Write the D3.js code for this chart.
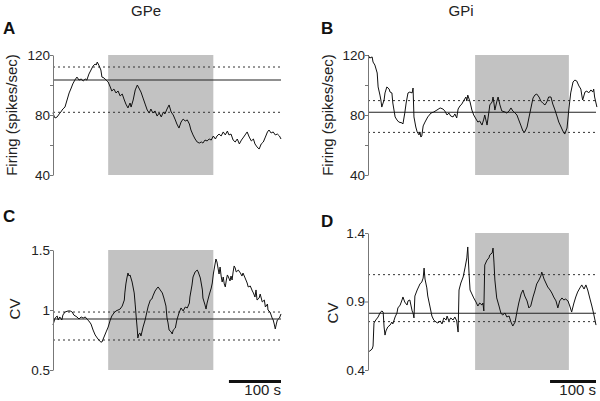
<!DOCTYPE html>
<html><head><meta charset="utf-8">
<script src="https://cdn.jsdelivr.net/npm/d3@7"></script>
<style>
body{margin:0;background:#fff;}
svg{display:block;font-family:"Liberation Sans",Arial,sans-serif;}
</style></head>
<body><svg id="c" width="600" height="401"></svg>
<script>
// ---- Panel A: GPe firing (spikes/sec) ----
const aTime = [0,2,4,8,12,15,19,23,27,31,35,38,42,46,50,54,58,62,65,69,73,77,81,83,85,88,92,94,98,102,106,110,113,117,121,125,129,133,137,140,144,148,150,154,158,162,165,169,173,177,181,185,188,192,196,200,204,208,212,215,219,223,227,231,235,238,242,246,250,254,258,262,265,269,273,277,281,285,288,292,296,300,304,308,312,315,319,323,327,331,335,338,342,346,350,354,358,362,365,369,373,377,381,385,388,392,396,400,404,408,412,415,419,423,427,431,435,438];
const aValue = [81.5,79.3,78,78.7,80.7,82,84,85.3,90,94.7,98,100.7,103.3,105.3,103.3,104,102.7,104,103.3,107.3,110,112.7,114,113.3,115.3,113.3,110,105.3,104.7,103.3,102,98.7,96,97.3,94.7,96,92.7,94,90,87.3,84.7,88,85.3,90,96.7,100,98,95.3,91.3,87.3,83.3,81.3,84,81.3,82.7,79.3,81.3,78.7,82,80.7,84,86.7,82,80,76.7,74,71.3,75.3,77.3,76,76.7,74,70,66.7,64,62,61.3,62,61.3,63.3,62.7,64,63.3,66,64,66,67.3,66,68.7,66.7,69.3,66.7,67.3,63.3,62,64,60.7,63.3,64.7,66.7,68.7,65.3,62.7,64,60.7,58.7,57.3,60.7,62,65.3,68.7,70,68,68.7,66.7,67.3,66,64];
const aMean = 103.3, aUpper = 112, aLower = 81.8;

// ---- Panel B: GPi firing (spikes/sec) ----
const bTime = [0,4,9,11,15,20,22,26,28,30,35,37,41,46,48,52,54,59,63,67,74,76,80,83,87,91,96,98,100,104,107,111,113,115,117,120,124,130,137,143,150,157,163,167,172,176,180,185,189,193,196,200,204,209,213,215,217,222,226,230,235,239,243,248,252,254,257,259,263,265,270,272,274,276,280,283,287,291,298,302,307,311,315,320,324,328,333,337,341,346,350,354,359,363,367,372,376,380,385,389,393,398,402,406,411,415,420,424,428,433,437,441,446,450,454,459,463,465,467,472,476,480,485,489,491,493,498];
const bValue = [120,118,118.7,115.3,113.3,108,98.7,93.3,90,85.3,90,94.7,98.7,97.3,95.3,94.7,88,78.7,76.7,75.3,74.7,74,81.3,88,94.7,95.3,94.7,98,78.7,72,68.7,66.7,68.7,65.3,66,72.7,75.3,78.7,81.3,82,83.3,84.7,84,82.7,80,81.3,79.3,78.7,80.7,78,84,86,87.3,90,92,89.3,93.3,88.7,83.3,80,77.3,75.3,76,73.3,77.3,80,76,73.3,82,86.7,88.7,92,88,83.3,88.7,92,86.7,82.7,82,81.3,82.7,84.7,82.7,81.3,80,76.7,72.7,69.3,68.7,72,78,84,91.3,93.3,94,92,89.3,88,86.7,88.7,92,92,87.3,84,79.3,75.3,72,69.3,67.3,71.3,84,94.7,102,103.3,102.7,99.3,97.3,93.3,90,95.3,96,94.7,96.7,95.3,97.3,92,85.3];
const bMean = 81.8, bUpper = 89.6, bLower = 68.4;

// ---- Panel C: GPe CV ----
const cTime = [0,4,8,10,13,17,19,23,29,33,37,40,46,50,54,58,62,65,69,73,77,81,85,88,92,94,98,102,106,110,113,117,121,125,129,133,137,138,140,142,144,146,148,152,156,158,160,162,163,165,167,169,173,177,179,183,187,190,192,196,200,202,206,210,213,217,219,221,223,227,229,231,235,238,242,246,250,254,258,262,263,267,269,273,277,279,283,287,288,292,294,296,300,304,306,308,310,312,313,315,317,319,321,323,325,327,329,331,333,335,337,340,342,344,346,348,350,352,356,360,363,365,369,373,375,379,383,385,388,390,392,396,398,402,406,408,412,413,417,421,423,425,427,429,431,435,438];
const cValue = [0.875,0.933,0.95,0.917,0.942,0.917,0.958,0.983,0.992,0.992,0.983,0.958,0.942,0.925,0.942,0.933,0.942,0.925,0.908,0.883,0.833,0.792,0.767,0.75,0.733,0.733,0.775,0.817,0.858,0.917,0.95,0.975,0.992,1.0,1.008,1.033,1.083,1.142,1.217,1.267,1.308,1.283,1.292,1.233,1.142,1.042,0.933,0.833,0.767,0.8,0.808,0.783,0.858,0.917,0.958,1.033,1.083,1.092,1.117,1.158,1.183,1.192,1.167,1.142,1.1,1.033,0.933,0.892,0.833,0.817,0.8,0.833,0.85,0.917,0.975,1.017,0.992,1.025,1.017,1.058,1.108,1.208,1.275,1.317,1.333,1.317,1.267,1.167,1.1,1.042,1.008,1.058,1.125,1.183,1.225,1.3,1.35,1.4,1.425,1.4,1.35,1.3,1.358,1.283,1.233,1.275,1.217,1.192,1.25,1.292,1.275,1.242,1.283,1.25,1.317,1.367,1.35,1.317,1.333,1.308,1.283,1.308,1.267,1.225,1.192,1.2,1.158,1.142,1.108,1.167,1.083,1.1,1.133,1.067,1.083,1.025,1.05,1.0,0.983,0.933,0.917,0.883,0.842,0.883,0.917,0.933,0.967];
const cMean = 0.925, cUpper = 0.983, cLower = 0.75;

// ---- Panel D: GPi CV ----
const dTime = [0,4,9,11,13,17,22,26,30,33,35,37,39,43,48,52,54,59,63,65,70,74,76,80,85,87,91,96,98,100,102,107,111,113,117,120,122,124,128,130,135,139,143,148,152,157,161,165,170,172,176,180,185,189,193,196,198,202,207,211,215,217,220,222,226,230,235,239,243,248,250,252,254,259,263,265,270,272,274,276,280,285,289,293,298,302,307,311,315,320,324,328,333,337,341,346,350,354,359,363,367,372,376,378,383,387,391,396,400,404,409,413,417,422,426,430,435,439,443,448,452,456,461,465,470,474,478,483,487,491,496];
const dValue = [0.531,0.539,0.553,0.575,0.743,0.765,0.787,0.816,0.831,0.823,0.714,0.655,0.685,0.714,0.728,0.75,0.736,0.787,0.816,0.853,0.874,0.911,0.933,0.896,0.874,0.904,0.911,0.831,0.816,0.78,0.94,0.984,1.013,1.028,1.042,1.071,1.144,1.064,0.999,0.94,0.86,0.794,0.765,0.75,0.743,0.758,0.736,0.78,0.765,0.794,0.758,0.78,0.765,0.787,0.758,0.677,0.984,1.035,1.079,1.145,1.218,1.298,1.093,0.984,0.955,0.926,0.896,0.867,0.889,0.874,0.889,0.831,1.166,1.203,1.218,1.24,1.254,1.29,1.188,1.057,0.926,0.867,0.816,0.801,0.816,0.787,0.794,0.75,0.721,0.75,0.823,0.889,0.955,0.984,0.94,0.904,0.853,0.867,0.933,0.977,1.028,1.057,1.086,1.115,1.064,1.035,1.006,0.984,0.962,0.933,0.904,0.853,0.904,0.926,0.911,0.918,0.904,0.867,0.823,0.889,0.933,0.969,0.999,1.021,0.991,1.021,0.984,0.918,0.867,0.809,0.728];
const dMean = 0.814, dUpper = 1.096, dLower = 0.753;

// ---- ticks / labels ----
const firingTicks = [40,60,80,100,120];
const firingLabels = ["40","","80","","120"];
const cTicks = [0.5,1,1.5];
const cLabels = ["0.5","1","1.5"];
const dTicks = [0.4,0.9,1.4];
const dLabels = ["0.4","0.9","1.4"];
const gpeWindow = [106,308];   // shaded epoch (s)
const gpiWindow = [233,437];
const scaleBarSec = 100;

const svg = d3.select("#c");

function panel(o){
  const g = svg.append("g");
  const x = d3.scaleLinear().domain(o.xDomain).range(o.xRange);
  const y = d3.scaleLinear().domain(o.yDomain).range(o.yRange);
  g.append("rect")
    .attr("x", x(o.win[0])).attr("width", x(o.win[1]) - x(o.win[0]))
    .attr("y", y(o.yDomain[1])).attr("height", y(o.yDomain[0]) - y(o.yDomain[1]))
    .attr("fill", "#c2c2c2");
  [o.upper, o.lower].forEach(v=>{
    g.append("line").attr("x1", x(o.xDomain[0])).attr("x2", x(o.xDomain[1]))
      .attr("y1", y(v)).attr("y2", y(v))
      .attr("stroke", "#333").attr("stroke-width", 1).attr("stroke-dasharray", "2,3");
  });
  g.append("line").attr("x1", x(o.xDomain[0])).attr("x2", x(o.xDomain[1]))
    .attr("y1", y(o.mean)).attr("y2", y(o.mean))
    .attr("stroke", "#222").attr("stroke-width", 1.1);
  const pts = o.t.map((t,i)=>[t,o.v[i]]);
  g.append("path").datum(pts)
    .attr("d", d3.line().x(d=>x(d[0])).y(d=>y(d[1])))
    .attr("fill","none").attr("stroke","#111").attr("stroke-width",1)
    .attr("stroke-linejoin","round");
  const ax = g.append("g").attr("transform", `translate(${o.xRange[0]},0)`)
    .call(d3.axisLeft(y).tickValues(o.ticks).tickSize(3).tickSizeOuter(0)
      .tickFormat((d,i)=>o.labels[i]));
  ax.select(".domain").attr("stroke","#777");
  ax.selectAll(".tick line").attr("stroke","#777");
  ax.selectAll(".tick text").attr("font-size",13.5).attr("fill","#222")
    .attr("font-family","Liberation Sans, Arial, sans-serif").attr("x",-3);
  g.append("text")
    .attr("transform", `translate(${o.ylabX},${o.ylabY}) rotate(-90)`)
    .attr("text-anchor","middle").attr("font-size",15).attr("fill","#222")
    .text(o.ylabel);
  g.append("text").attr("x", o.letterX).attr("y", o.letterY)
    .attr("font-size",17).attr("font-weight","bold").attr("fill","#111").text(o.letter);
  if (o.bar){
    const x1 = o.xDomain[1], x0 = x1 - scaleBarSec;
    g.append("line").attr("x1", x(x0)).attr("x2", x(x1)).attr("y1",381.5).attr("y2",381.5)
      .attr("stroke","#111").attr("stroke-width",3);
    g.append("text").attr("x", x(x1)).attr("y",395).attr("text-anchor","end")
      .attr("font-size",15).attr("fill","#222").text(scaleBarSec + " s");
  }
  return g;
}

panel({xDomain:[0,438], xRange:[53,281], yDomain:[40,120], yRange:[175,55],
  t:aTime, v:aValue, mean:aMean, upper:aUpper, lower:aLower, win:gpeWindow,
  ticks:firingTicks, labels:firingLabels, ylabel:"Firing (spikes/sec)", ylabX:17, ylabY:115,
  letter:"A", letterX:3, letterY:34, bar:false});
panel({xDomain:[0,496], xRange:[368,596], yDomain:[40,120], yRange:[175,55],
  t:bTime, v:bValue, mean:bMean, upper:bUpper, lower:bLower, win:gpiWindow,
  ticks:firingTicks, labels:firingLabels, ylabel:"Firing (spikes/sec)", ylabX:333, ylabY:115,
  letter:"B", letterX:321, letterY:34, bar:false});
panel({xDomain:[0,438], xRange:[53,281], yDomain:[0.5,1.5], yRange:[370,250],
  t:cTime, v:cValue, mean:cMean, upper:cUpper, lower:cLower, win:gpeWindow,
  ticks:cTicks, labels:cLabels, ylabel:"CV", ylabX:20, ylabY:309,
  letter:"C", letterX:3, letterY:222, bar:true});
panel({xDomain:[0,496], xRange:[368,596], yDomain:[0.4,1.4], yRange:[370,233],
  t:dTime, v:dValue, mean:dMean, upper:dUpper, lower:dLower, win:gpiWindow,
  ticks:dTicks, labels:dLabels, ylabel:"CV", ylabX:338, ylabY:313,
  letter:"D", letterX:321, letterY:227, bar:true});

svg.append("text").attr("x",146).attr("y",16).attr("text-anchor","middle")
  .attr("font-size",15).attr("fill","#222").text("GPe");
svg.append("text").attr("x",461).attr("y",16).attr("text-anchor","middle")
  .attr("font-size",15).attr("fill","#222").text("GPi");
</script></body></html>
